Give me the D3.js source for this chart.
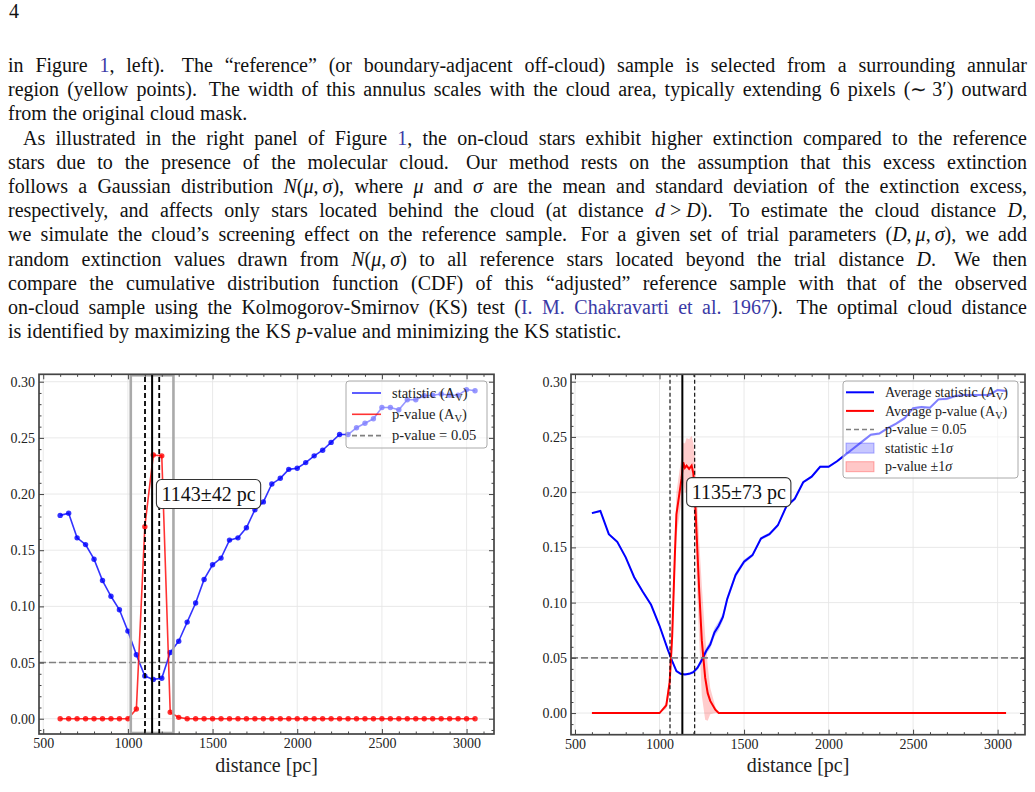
<!DOCTYPE html>
<html><head><meta charset="utf-8">
<script src="https://cdn.jsdelivr.net/npm/d3@7"></script>
<style>body{margin:0;background:#fff}svg{display:block}</style>
</head><body>
<svg id="page" width="1035" height="792"></svg>
<script>
// ---------------- DATA ----------------
const distances = [600,650,700,750,800,850,900,950,1000,1050,1100,1150,1200,1250,1300,1350,1400,1450,1500,1550,1600,1650,1700,1750,1800,1850,1900,1950,2000,2050,2100,2150,2200,2250,2300,2350,2400,2450,2500,2550,2600,2650,2700,2750,2800,2850,2900,2950,3000,3050];
const statLeft = [0.181,0.183,0.161,0.155,0.142,0.123,0.109,0.097,0.078,0.057,0.038,0.035,0.036,0.059,0.069,0.086,0.103,0.124,0.137,0.143,0.159,0.161,0.170,0.186,0.193,0.209,0.214,0.222,0.223,0.228,0.234,0.239,0.246,0.253,0.253,0.259,0.263,0.267,0.277,0.277,0.275,0.284,0.284,0.2875,0.288,0.289,0.288,0.288,0.293,0.292];
const pvalLeft = [0,0,0,0,0,0,0,0,0,0.0086,0.171,0.2347,0.234,0.0057,0.0012,0,0,0,0,0,0,0,0,0,0,0,0,0,0,0,0,0,0,0,0,0,0,0,0,0,0,0,0,0,0,0,0,0,0,0];

const statDistRight = [600,650,700,750,800,850,900,950,1000,1050,1075,1100,1125,1150,1175,1200,1225,1250,1275,1300,1325,1350,1375,1400,1450,1500,1550,1600,1650,1700,1750,1800,1850,1900,1950,2000,2050,2100,2150,2200,2250,2300,2350,2400,2450,2500,2550,2600,2650,2700,2750,2800,2850,2900,2950,3000,3050];
const statRight = [0.181,0.183,0.162,0.155,0.141,0.123,0.110,0.098,0.079,0.057,0.047,0.038,0.0355,0.035,0.0355,0.037,0.041,0.048,0.056,0.062,0.073,0.079,0.087,0.103,0.125,0.137,0.143,0.158,0.162,0.170,0.187,0.194,0.209,0.214,0.223,0.223,0.228,0.234,0.240,0.246,0.252,0.253,0.258,0.262,0.267,0.276,0.277,0.2765,0.284,0.2845,0.287,0.288,0.288,0.288,0.288,0.2925,0.2915];
const statSigmaRight = [0.001,0.001,0.001,0.0012,0.0012,0.0012,0.0012,0.0012,0.0015,0.0015,0.0015,0.0012,0.001,0.001,0.0012,0.0015,0.002,0.0025,0.003,0.0035,0.004,0.004,0.0035,0.003,0.0025,0.002,0.0015,0.0015,0.0015,0.0015,0.0015,0.0012,0.0012,0.0012,0.0012,0.0012,0.0012,0.0012,0.0012,0.0012,0.0012,0.0012,0.0012,0.0012,0.0012,0.0012,0.0012,0.0012,0.0012,0.0012,0.0012,0.0012,0.0012,0.0012,0.0012,0.0012,0.0012];
const pvalDistRight = [600,1000,1040,1060,1075,1090,1100,1115,1130,1140,1150,1160,1175,1190,1200,1210,1220,1235,1250,1270,1285,1300,1330,1350,3050];
const pvalRight = [0,0,0.007,0.028,0.07,0.14,0.18,0.196,0.212,0.227,0.222,0.224,0.221,0.224,0.217,0.195,0.16,0.11,0.066,0.032,0.018,0.011,0.003,0,0];
const pvalSigmaRight = [0,0,0.003,0.01,0.015,0.02,0.02,0.02,0.02,0.018,0.022,0.025,0.027,0.027,0.028,0.035,0.04,0.045,0.05,0.038,0.025,0.012,0.003,0,0];

const xTicks = [500,1000,1500,2000,2500,3000];
const yTicks = [0,0.05,0.10,0.15,0.20,0.25,0.30];
const pThreshold = 0.05;
const distLeft = 1143, errLeft = 42;
const distRight = 1135, errRight = 73;
const legendLeft = ["statistic (A|V|)", "p-value (A|V|)", "p-value = 0.05"];
const legendRight = ["Average statistic (A|V|)", "Average p-value (A|V|)", "p-value = 0.05", "statistic ±1*σ*", "p-value ±1*σ*"];

// ---------------- PAGE TEXT ----------------
const serif = "'Liberation Serif','Times New Roman',serif";
const svg = d3.select('#page');
svg.append('rect').attr('width',1035).attr('height',792).attr('fill','#fff');

const paragraphs = [
  {indent:false, lines:[
    "in Figure {1}, left).  The “reference” (or boundary-adjacent off-cloud) sample is selected from a surrounding annular",
    "region (yellow points).  The width of this annulus scales with the cloud area, typically extending 6 pixels (∼\u00A03′) outward",
    "from the original cloud mask."]},
  {indent:true, lines:[
    "As illustrated in the right panel of Figure {1}, the on-cloud stars exhibit higher extinction compared to the reference",
    "stars due to the presence of the molecular cloud.  Our method rests on the assumption that this excess extinction",
    "follows a Gaussian distribution *N*(*μ*,\u2009*σ*), where *μ* and *σ* are the mean and standard deviation of the extinction excess,",
    "respectively, and affects only stars located behind the cloud (at distance *d*\u00A0>\u00A0*D*).  To estimate the cloud distance *D*,",
    "we simulate the cloud’s screening effect on the reference sample.  For a given set of trial parameters (*D*,\u2009*μ*,\u2009*σ*), we add",
    "random extinction values drawn from *N*(*μ*,\u2009*σ*) to all reference stars located beyond the trial distance *D*.  We then",
    "compare the cumulative distribution function (CDF) of this “adjusted” reference sample with that of the observed",
    "on-cloud sample using the Kolmogorov-Smirnov (KS) test ({I. M. Chakravarti et al. 1967}).  The optimal cloud distance",
    "is identified by maximizing the KS *p*-value and minimizing the KS statistic."]}
];

const textG = svg.append('g').attr('font-family', serif).attr('font-size', 20).attr('fill','#111');
textG.append('text').attr('x',9).attr('y',18).text('4');

function parseStyled(str){
  const out=[]; let it=false, ln=false;
  for(const ch of str){
    if(ch==='*'){it=!it;continue;}
    if(ch==='{'){ln=true;continue;}
    if(ch==='}'){ln=false;continue;}
    out.push({ch, it, ln});
  }
  return out;
}
function writeWord(t, chars){
  const groups=[];
  chars.forEach(c=>{
    const key=(c.it?'i':'')+(c.ln?'l':'');
    if(!groups.length||groups[groups.length-1].key!==key) groups.push({key,txt:'',it:c.it,ln:c.ln});
    groups[groups.length-1].txt+=c.ch;
  });
  groups.forEach(gp=>t.append('tspan').attr('font-style',gp.it?'italic':null).attr('fill',gp.ln?'#3a3aa6':null).text(gp.txt));
}
function renderLine(line, x0, x1, y, justify){
  const chars=parseStyled(line);
  const words=[]; let w=[];
  chars.forEach(c=>{ if(c.ch===' '){ words.push(w); w=[]; } else w.push(c); });
  words.push(w);
  const items=[]; let pendingWide=false;
  words.forEach(wd=>{
    if(wd.length===0){pendingWide=true;return;}
    items.push({chars:wd, wide:pendingWide}); pendingWide=false;
  });
  items.forEach(it=>{ it.t=textG.append('text').attr('y',y); writeWord(it.t,it.chars); it.w=it.t.node().getComputedTextLength(); });
  const total=d3.sum(items,d=>d.w);
  const weights=items.slice(1).map(d=>d.wide?1.45:1);
  const unit=justify?(x1-x0-total)/d3.sum(weights):5.5;
  let x=x0;
  items.forEach((it,i)=>{ it.t.attr('x',x); x+=it.w+(i<items.length-1?unit*weights[i]:0); });
}
let lineIdx=0;
paragraphs.forEach(p=>{
  p.lines.forEach((ln,i)=>{
    const y=72+lineIdx*24.2;
    const x0=(p.indent&&i===0)?23:8;
    renderLine(ln,x0,1027,y,i<p.lines.length-1);
    lineIdx++;
  });
});

// ---------------- CHARTS ----------------
const minorX = d3.range(500,3200,100).filter(v=>v%500!==0);
const minorY = d3.range(-1,31).map(v=>v/100).filter(v=>Math.round(v*100)%5!==0);
const spineColor='#444';

function drawFrame(g,x,y){
  const [xl,xr]=x.range(), [yb,yt]=y.range();
  g.append('g').selectAll('line').data(xTicks).join('line')
    .attr('x1',d=>x(d)).attr('x2',d=>x(d)).attr('y1',yb).attr('y2',yt)
    .attr('stroke','#e6e6e6').attr('stroke-width',0.9);
  g.append('g').selectAll('line').data(yTicks).join('line')
    .attr('y1',d=>y(d)).attr('y2',d=>y(d)).attr('x1',xl).attr('x2',xr)
    .attr('stroke','#e6e6e6').attr('stroke-width',0.9);
}
function drawAxes(g,x,y){
  const [xl,xr]=x.range(), [yb,yt]=y.range();
  const style=sel=>{ sel.select('.domain').remove(); sel.selectAll('.tick line').attr('stroke',spineColor).attr('stroke-width',1);
    sel.attr('font-family',serif).attr('font-size',14); sel.selectAll('text').attr('fill','#222');
    sel.selectAll('.tick text').filter(function(){return !this.textContent;}).remove(); };
  g.append('g').attr('transform',`translate(0,${yb})`).call(d3.axisBottom(x).tickValues(xTicks).tickFormat(d3.format('d')).tickSizeInner(-5).tickSizeOuter(0).tickPadding(4)).call(style);
  g.append('g').attr('transform',`translate(0,${yb})`).call(d3.axisBottom(x).tickValues(minorX).tickFormat('').tickSizeInner(-2.5).tickSizeOuter(0)).call(style);
  g.append('g').attr('transform',`translate(0,${yt})`).call(d3.axisTop(x).tickValues(xTicks).tickFormat('').tickSizeInner(-5).tickSizeOuter(0)).call(style);
  g.append('g').attr('transform',`translate(0,${yt})`).call(d3.axisTop(x).tickValues(minorX).tickFormat('').tickSizeInner(-2.5).tickSizeOuter(0)).call(style);
  g.append('g').attr('transform',`translate(${xl},0)`).call(d3.axisLeft(y).tickValues(yTicks).tickFormat(d3.format('.2f')).tickSizeInner(-5).tickSizeOuter(0).tickPadding(4)).call(style);
  g.append('g').attr('transform',`translate(${xl},0)`).call(d3.axisLeft(y).tickValues(minorY).tickFormat('').tickSizeInner(-2.5).tickSizeOuter(0)).call(style);
  g.append('g').attr('transform',`translate(${xr},0)`).call(d3.axisRight(y).tickValues(yTicks).tickFormat('').tickSizeInner(-5).tickSizeOuter(0)).call(style);
  g.append('g').attr('transform',`translate(${xr},0)`).call(d3.axisRight(y).tickValues(minorY).tickFormat('').tickSizeInner(-2.5).tickSizeOuter(0)).call(style);
  g.append('rect').attr('x',xl).attr('y',yt).attr('width',xr-xl).attr('height',yb-yt)
    .attr('fill','none').attr('stroke',spineColor).attr('stroke-width',1.7);
  g.append('text').attr('x',(xl+xr)/2).attr('y',772).attr('text-anchor','middle')
    .attr('font-family',serif).attr('font-size',20).attr('fill','#222').text('distance [pc]');
}
function richLabel(t, s){
  // "|V|" -> subscript, "*σ*" -> italic
  const parts=s.split(/(\|[^|]*\||\*[^*]*\*)/).filter(p=>p.length);
  let shifted=false;
  parts.forEach(p=>{
    let sp;
    if(p[0]==='|'){ sp=t.append('tspan').attr('font-size','72%').attr('dy',3).text(p.slice(1,-1)); shifted=true; return; }
    if(p[0]==='*') sp=t.append('tspan').attr('font-style','italic').text(p.slice(1,-1));
    else sp=t.append('tspan').text(p);
    if(shifted){ sp.attr('dy',-3); shifted=false; }
  });
}
function annotate(g,x,y,D,err){
  const t=g.append('text').attr('x',x(D+55)).attr('y',y(0.20)).attr('dy','0.35em')
    .attr('font-family',serif).attr('font-size',20).attr('fill','#111').text(`${D}±${err} pc`);
  const bb=t.node().getBBox();
  g.insert('rect', () => t.node()).attr('x',bb.x-5).attr('y',y(0.20)-14.5).attr('width',bb.width+10).attr('height',29)
    .attr('rx',5).attr('fill','#fff').attr('stroke','#333').attr('stroke-width',1.1);
}

// ----- Left panel -----
{
  const x=d3.scaleLinear().domain([475,3162]).range([39,494]);
  const y=d3.scaleLinear().domain([-0.0136,0.3066]).range([734,374.3]);
  const g=svg.append('g');
  drawFrame(g,x,y);
  const blue='rgba(0,0,255,0.8)', red='rgba(255,0,0,0.8)';
  const line=vals=>d3.line().x((d,i)=>x(distances[i])).y(d=>y(d))(vals);
  g.append('path').attr('d',line(statLeft)).attr('fill','none').attr('stroke',blue).attr('stroke-width',1.6);
  g.append('g').selectAll('circle').data(statLeft).join('circle').attr('cx',(d,i)=>x(distances[i])).attr('cy',d=>y(d)).attr('r',2.7).attr('fill',blue);
  g.append('path').attr('d',line(pvalLeft)).attr('fill','none').attr('stroke',red).attr('stroke-width',1.6);
  g.append('g').selectAll('circle').data(pvalLeft).join('circle').attr('cx',(d,i)=>x(distances[i])).attr('cy',d=>y(d)).attr('r',2.7).attr('fill',red);
  g.append('line').attr('x1',39).attr('x2',494).attr('y1',y(pThreshold)).attr('y2',y(pThreshold))
    .attr('stroke','#808080').attr('stroke-width',1.6).attr('stroke-dasharray','7,3');
  g.append('rect').attr('x',x(distLeft-3*errLeft)).attr('y',y.range()[1]+1).attr('width',x(distLeft+3*errLeft)-x(distLeft-3*errLeft))
    .attr('height',y.range()[0]-y.range()[1]-2).attr('fill','none').attr('stroke','#aaa').attr('stroke-width',2.6);
  g.append('line').attr('x1',x(distLeft)).attr('x2',x(distLeft)).attr('y1',734).attr('y2',374.3).attr('stroke','#000').attr('stroke-width',2);
  [distLeft-errLeft,distLeft+errLeft].forEach(v=>g.append('line').attr('x1',x(v)).attr('x2',x(v)).attr('y1',734).attr('y2',374.3)
    .attr('stroke','#000').attr('stroke-width',1.8).attr('stroke-dasharray','5,3'));
  drawAxes(g,x,y);
  annotate(g,x,y,distLeft,errLeft);
  const lg=g.append('g');
  lg.append('rect').attr('x',346).attr('y',381).attr('width',141).attr('height',67).attr('rx',3)
    .attr('fill','#fff').attr('fill-opacity',0.5).attr('stroke','#aaa').attr('stroke-width',1);
  const styles=[{c:'#0000ff',dash:null},{c:'#ff0000',dash:null},{c:'#808080',dash:'5,3'}];
  legendLeft.forEach((s,i)=>{
    const ry=393+i*21.3;
    lg.append('line').attr('x1',352).attr('x2',381).attr('y1',ry).attr('y2',ry).attr('stroke',styles[i].c)
      .attr('stroke-opacity',i<2?0.8:1).attr('stroke-width',1.6).attr('stroke-dasharray',styles[i].dash);
    const t=lg.append('text').attr('x',392).attr('y',ry).attr('dy','0.33em').attr('font-family',serif).attr('font-size',14.5).attr('fill','#222');
    richLabel(t,s);
  });
}

// ----- Right panel -----
{
  const x=d3.scaleLinear().domain([476.3,3162]).range([571,1025]);
  const y=d3.scaleLinear().domain([-0.0196,0.3067]).range([734.7,374.3]);
  const g=svg.append('g');
  drawFrame(g,x,y);
  const area=(dist,m,s)=>d3.area().x((d,i)=>x(dist[i])).y0((d,i)=>y(m[i]-s[i])).y1((d,i)=>y(m[i]+s[i]))(m);
  const line=(dist,m)=>d3.line().x((d,i)=>x(dist[i])).y(d=>y(d))(m);
  g.append('path').attr('d',area(statDistRight,statRight,statSigmaRight)).attr('fill','rgba(0,0,255,0.2)');
  g.append('path').attr('d',area(pvalDistRight,pvalRight,pvalSigmaRight)).attr('fill','rgba(255,0,0,0.2)');
  g.append('path').attr('d',line(statDistRight,statRight)).attr('fill','none').attr('stroke','#0000ff').attr('stroke-width',2);
  g.append('path').attr('d',line(pvalDistRight,pvalRight)).attr('fill','none').attr('stroke','#ff0000').attr('stroke-width',2);
  g.append('line').attr('x1',571).attr('x2',1025).attr('y1',y(pThreshold)).attr('y2',y(pThreshold))
    .attr('stroke','#808080').attr('stroke-width',1.6).attr('stroke-dasharray','7,3');
  g.append('line').attr('x1',x(distRight)).attr('x2',x(distRight)).attr('y1',734.7).attr('y2',374.3).attr('stroke','#000').attr('stroke-width',2);
  [distRight-errRight,distRight+errRight].forEach(v=>g.append('line').attr('x1',x(v)).attr('x2',x(v)).attr('y1',734.7).attr('y2',374.3)
    .attr('stroke','#000').attr('stroke-width',1.1).attr('stroke-dasharray','4,2.5'));
  drawAxes(g,x,y);
  annotate(g,x,y,distRight,errRight);
  const lg=g.append('g');
  lg.append('rect').attr('x',843).attr('y',381).attr('width',175).attr('height',97).attr('rx',3)
    .attr('fill','#fff').attr('fill-opacity',0.5).attr('stroke','#aaa').attr('stroke-width',1);
  legendRight.forEach((s,i)=>{
    const ry=392.3+i*18.6;
    if(i<3){
      const c=['#0000ff','#ff0000','#808080'][i];
      lg.append('line').attr('x1',846).attr('x2',874).attr('y1',ry).attr('y2',ry).attr('stroke',c).attr('stroke-width',i<2?2:1.6).attr('stroke-dasharray',i===2?'5,3':null);
    } else {
      const c=i===3?'0,0,255':'255,0,0';
      lg.append('rect').attr('x',846).attr('y',ry-5).attr('width',28).attr('height',10)
        .attr('fill',`rgba(${c},0.22)`).attr('stroke',`rgba(${c},0.3)`).attr('stroke-width',1);
    }
    const t=lg.append('text').attr('x',885).attr('y',ry).attr('dy','0.33em').attr('font-family',serif).attr('font-size',14).attr('fill','#222');
    richLabel(t,s);
  });
}
</script>
</body></html>
